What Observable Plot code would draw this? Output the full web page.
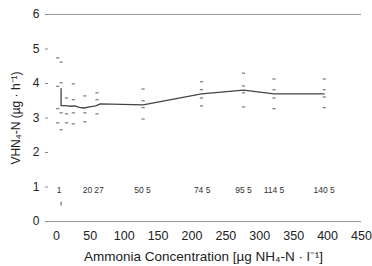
<!DOCTYPE html>
<html>
<head>
<meta charset="utf-8">
<script src="https://cdn.jsdelivr.net/npm/d3@7"></script>
<script src="https://cdn.jsdelivr.net/npm/@observablehq/plot@0.6"></script>
<style>
  html, body { margin: 0; padding: 0; background: #fff; }
  #chart { width: 372px; height: 266px; }
</style>
</head>
<body>
<div id="chart"></div>
<script>
// Mean line (x = ammonia concentration, y = VHN4-N)
const meanX = [7, 7, 14, 20, 27, 34, 41, 49, 58, 65, 128, 214, 276, 321, 395];
const meanY = [3.85, 3.36, 3.36, 3.34, 3.35, 3.31, 3.29, 3.32, 3.35, 3.41, 3.38, 3.70, 3.81, 3.70, 3.70];

// Spread markers (min / SD / max dashes) per concentration
const markX = [2, 2, 2, 2, 7, 7, 7, 7, 15, 15, 15, 25, 25, 25, 25, 42, 42, 42, 60, 60, 60,
               128, 128, 128, 128, 214, 214, 214, 214, 276, 276, 276, 276, 321, 321, 321, 321, 395, 395, 395, 395];
const markY = [4.74, 3.92, 3.27, 2.86, 4.62, 4.02, 3.15, 2.66, 3.58, 3.12, 2.86, 3.99, 3.53, 3.15, 2.83, 3.64, 3.15, 2.89, 3.73, 3.53, 3.12,
               3.84, 3.50, 3.30, 2.97, 4.05, 3.82, 3.58, 3.35, 4.30, 3.93, 3.73, 3.32, 4.13, 3.82, 3.58, 3.27, 4.13, 3.82, 3.61, 3.30];

// Annotation labels near y = 1
const labelX = [4, 46, 63, 127, 215, 276, 321, 395];
const labelText = ["1", "20", "27", "50 5", "74 5", "95 5", "114 5", "140 5"];
const labelY = 0.9;

const xTicks = [0, 50, 100, 150, 200, 250, 300, 350, 400, 450];
const yTicks = [0, 1, 2, 3, 4, 5, 6];

const meanData = meanX.map((x, i) => ({x, y: meanY[i]}));
const markData = markX.map((x, i) => ({x, y: markY[i]}));
const labelData = labelX.map((x, i) => ({x, y: labelY, t: labelText[i]}));

const dash = {
  draw(context, size) {
    const w = 1.6;
    context.moveTo(-w, 0);
    context.lineTo(w, 0);
  }
};

const chart = Plot.plot({
  width: 372,
  height: 266,
  marginLeft: 45,
  marginRight: 11,
  marginTop: 14,
  marginBottom: 45,
  style: {fontFamily: "'Liberation Sans', Arial, sans-serif", fontSize: "12px", color: "#222", background: "#fff"},
  x: {domain: [-16, 450]},
  y: {domain: [0, 6]},
  marks: [
    Plot.ruleY([0, 6], {x1: -16, x2: 450, stroke: "#999", strokeWidth: 1}),
    Plot.axisY({ticks: yTicks, tickFormat: d3.format("d"), tickSize: -3, tickPadding: 9, label: null, fontSize: 12, stroke: "#888", color: "#222"}),
    Plot.axisY({ticks: [], label: "VHN₄-N (µg · h⁻¹)", labelAnchor: "center", labelOffset: 34, labelArrow: "none", fontSize: 12, color: "#222"}),
    Plot.axisX({ticks: xTicks, tickFormat: d3.format("d"), tickSize: 0, tickPadding: 10, label: null, fontSize: 12.5, color: "#222"}),
    Plot.axisX({ticks: [], label: "Ammonia Concentration [µg NH₄-N · l⁻¹]", labelAnchor: "center", labelOffset: 39, labelArrow: "none", fontSize: 13.5, color: "#222"}),
    Plot.line(meanData, {x: "x", y: "y", stroke: "#444", strokeWidth: 1.3}),
    Plot.dot(markData, {x: "x", y: "y", symbol: dash, stroke: "#777", strokeWidth: 1.2, r: 2}),
    Plot.text(labelData, {x: "x", y: "y", text: "t", fontSize: 8.5, fill: "#333"}),
    Plot.ruleX([7], {y1: 0.45, y2: 0.56, stroke: "#555", strokeWidth: 1})
  ]
});
document.getElementById("chart").appendChild(chart);
</script>
</body>
</html>
